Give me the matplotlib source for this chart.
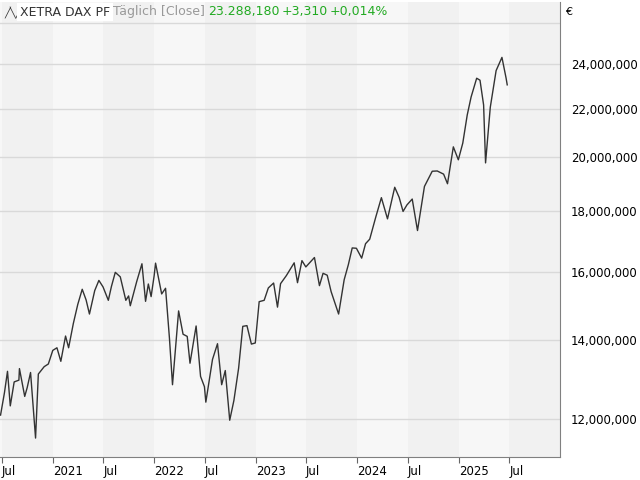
import matplotlib
matplotlib.use('Agg')
import matplotlib.pyplot as plt
import matplotlib.dates as mdates
import numpy as np
from datetime import date

# Approximate closing levels (index points; axis shows points * 1000)
DATES = [
    '2020-06-26', '2020-07-10', '2020-07-21', '2020-07-31', '2020-08-14', '2020-08-31', '2020-09-02',
    '2020-09-21', '2020-09-30', '2020-10-12', '2020-10-30', '2020-11-09', '2020-11-30', '2020-12-15',
    '2020-12-31', '2021-01-15', '2021-01-29', '2021-02-15', '2021-02-26', '2021-03-15', '2021-03-31',
    '2021-04-16', '2021-04-30', '2021-05-12', '2021-05-31', '2021-06-15', '2021-06-30', '2021-07-19',
    '2021-07-30', '2021-08-13', '2021-08-31', '2021-09-20', '2021-09-30', '2021-10-06', '2021-10-29',
    '2021-11-17', '2021-11-30', '2021-12-10', '2021-12-20', '2021-12-31', '2022-01-05', '2022-01-27',
    '2022-02-10', '2022-02-24', '2022-03-07', '2022-03-29', '2022-04-14', '2022-04-29', '2022-05-09',
    '2022-05-31', '2022-06-16', '2022-06-30', '2022-07-05', '2022-07-29', '2022-08-16', '2022-08-31',
    '2022-09-13', '2022-09-29', '2022-10-14', '2022-10-31', '2022-11-15', '2022-11-30', '2022-12-16',
    '2022-12-30', '2023-01-13', '2023-01-31', '2023-02-15', '2023-03-06', '2023-03-20', '2023-03-31',
    '2023-04-21', '2023-05-19', '2023-05-31', '2023-06-16', '2023-06-30', '2023-07-31', '2023-08-18',
    '2023-08-31', '2023-09-15', '2023-09-29', '2023-10-26', '2023-11-15', '2023-11-30', '2023-12-14',
    '2023-12-29', '2024-01-17', '2024-01-31', '2024-02-15', '2024-03-08', '2024-03-28', '2024-04-19',
    '2024-05-15', '2024-05-31', '2024-06-14', '2024-06-28', '2024-07-17', '2024-08-05', '2024-08-30',
    '2024-09-27', '2024-10-15', '2024-11-07', '2024-11-21', '2024-12-12', '2024-12-30', '2025-01-15',
    '2025-01-31', '2025-02-14', '2025-03-06', '2025-03-18', '2025-03-31', '2025-04-07', '2025-04-24',
    '2025-05-15', '2025-06-05', '2025-06-20', '2025-06-24',
]
CLOSES = [
    12090, 12630, 13170, 12310, 12900, 12945, 13240,
    12540, 12760, 13140, 11560, 13100, 13290, 13360,
    13720, 13790, 13430, 14110, 13790, 14460, 15010,
    15460, 15140, 14730, 15420, 15730, 15530, 15130,
    15540, 15980, 15840, 15130, 15260, 14970, 15690,
    16250, 15100, 15620, 15240, 15880, 16270, 15320,
    15490, 14050, 12830, 14820, 14160, 14100, 13380,
    14390, 13040, 12780, 12400, 13480, 13900, 12830,
    13190, 11970, 12440, 13250, 14380, 14400, 13890,
    13920, 15090, 15130, 15500, 15650, 14930, 15630,
    15880, 16280, 15660, 16350, 16150, 16450, 15570,
    15950, 15890, 15390, 14730, 15750, 16220, 16760,
    16750, 16430, 16900, 17050, 17810, 18490, 17740,
    18870, 18500, 18000, 18230, 18440, 17340, 18900,
    19470, 19480, 19360, 19000, 20420, 19910, 20570,
    21730, 22510, 23350, 23260, 22160, 19790, 22060,
    23700, 24320, 23350, 23050,
]
SCALE = 1000
Y_TICKS = [12e6, 14e6, 16e6, 18e6, 20e6, 22e6, 24e6, 26e6]
X_TICKS = ['2020-07-01', '2021-01-01', '2021-07-01', '2022-01-01', '2022-07-01', '2023-01-01',
           '2023-07-01', '2024-01-01', '2024-07-01', '2025-01-01', '2025-07-01']
X_LABELS = ['Jul', '2021', 'Jul', '2022', 'Jul', '2023', 'Jul', '2024', 'Jul', '2025', 'Jul']


def main() -> None:
    fig = plt.figure(figsize=(6.4, 4.8), dpi=100)
    ax = fig.add_axes([0, 23 / 480, 560 / 640, 455 / 480])
    ax.set_facecolor('#f7f7f7')

    xs = [mdates.date2num(np.datetime64(d)) for d in DATES]
    ys = [c * SCALE for c in CLOSES]

    xmin = mdates.date2num(np.datetime64('2020-06-24'))
    xmax = mdates.date2num(np.datetime64('2025-12-31'))
    ax.set_xlim(xmin, xmax)
    ax.set_yscale('log')
    ax.set_ylim(11.14e6, 27.1e6)

    # half-year shading: second halves darker
    for yr in range(2020, 2026):
        a = mdates.date2num(date(yr, 7, 1))
        b = mdates.date2num(date(yr + 1, 1, 1))
        ax.axvspan(a, b, color='#f1f1f1', zorder=0, lw=0)

    for t in Y_TICKS:
        ax.axhline(t, color='#d9d9d9', lw=1, zorder=1)

    ax.plot(xs, ys, color='#333333', lw=1, zorder=3)

    ax.yaxis.tick_right()
    ax.set_yticks(Y_TICKS[:-1])
    ax.set_yticklabels([f'{int(t):,}' for t in Y_TICKS[:-1]], fontsize=8.5)
    ax.yaxis.set_minor_locator(matplotlib.ticker.NullLocator())
    ax.tick_params(axis='y', length=0, pad=8)

    tx = [mdates.date2num(np.datetime64(d)) for d in X_TICKS]
    ax.set_xticks(tx)
    ax.set_xticklabels(X_LABELS, fontsize=8.5, ha='left')
    ax.tick_params(axis='x', length=4, color='#666666', pad=2)

    for s in ('top', 'left'):
        ax.spines[s].set_visible(False)
    for s in ('right', 'bottom'):
        ax.spines[s].set_color('#808080')

    fig.text(565 / 640, 1 - 12 / 480, '€', fontsize=8, va='center')
    fig.text(4 / 640, 1 - 12 / 480, '╱╲╱', fontsize=7, va='center', color='#333333')
    fig.text(20 / 640, 1 - 12 / 480, 'XETRA DAX PF', fontsize=9, va='center', color='#333333',
             bbox=dict(facecolor='white', edgecolor='none', pad=2))
    fig.text(113 / 640, 1 - 12 / 480, 'Täglich [Close]', fontsize=9, va='center', color='#999999')
    fig.text(208 / 640, 1 - 12 / 480, '23.288,180', fontsize=9, va='center', color='#22aa22')
    fig.text(282 / 640, 1 - 12 / 480, '+3,310', fontsize=9, va='center', color='#22aa22')
    fig.text(330 / 640, 1 - 12 / 480, '+0,014%', fontsize=9, va='center', color='#22aa22')

    fig.savefig('out.png', dpi=100)


if __name__ == '__main__':
    main()
